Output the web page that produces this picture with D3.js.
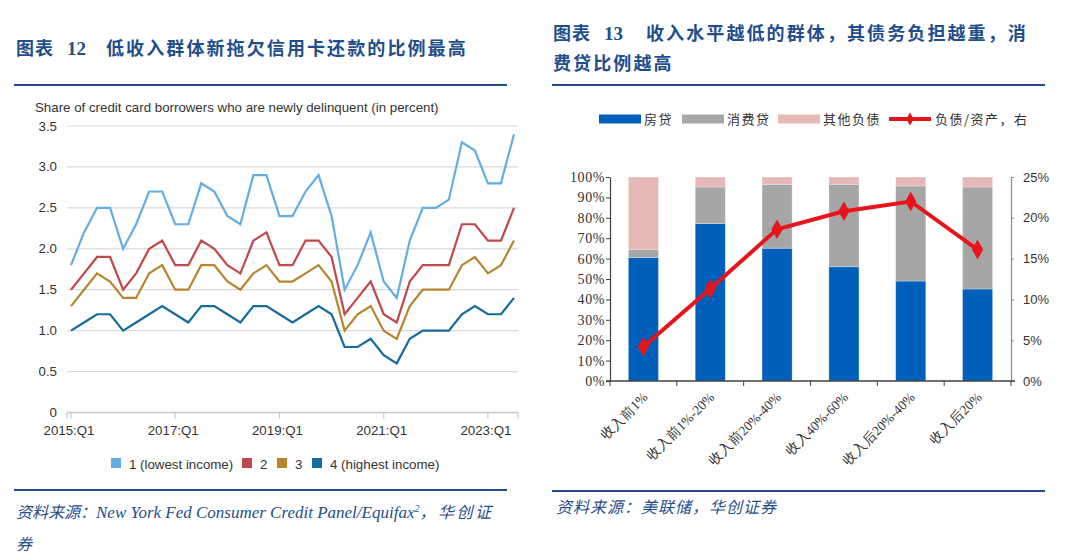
<!DOCTYPE html>
<html><head><meta charset="utf-8">
<script src="https://cdn.jsdelivr.net/npm/d3@7"></script>
<style>
html,body{margin:0;padding:0;background:#fff;}
svg{display:block;}
</style></head>
<body>
<svg id="c" width="1080" height="560"></svg>
<script>
// ---------- Left chart data ----------
const periods = ["2015:Q1","2015:Q2","2015:Q3","2015:Q4","2016:Q1","2016:Q2","2016:Q3","2016:Q4",
"2017:Q1","2017:Q2","2017:Q3","2017:Q4","2018:Q1","2018:Q2","2018:Q3","2018:Q4",
"2019:Q1","2019:Q2","2019:Q3","2019:Q4","2020:Q1","2020:Q2","2020:Q3","2020:Q4",
"2021:Q1","2021:Q2","2021:Q3","2021:Q4","2022:Q1","2022:Q2","2022:Q3","2022:Q4",
"2023:Q1","2023:Q2","2023:Q3"];
const xTickLabels = ["2015:Q1","2017:Q1","2019:Q1","2021:Q1","2023:Q1"];
const yTicksLeft = [0,0.5,1.0,1.5,2.0,2.5,3.0,3.5];
const seriesNames = ["1 (lowest income)","2","3","4 (highest income)"];
const seriesColors = ["#62aee2","#c0484b","#b5862e","#156b9b"];
const q1 = [1.8,2.2,2.5,2.5,2.0,2.3,2.7,2.7,2.3,2.3,2.8,2.7,2.4,2.3,2.9,2.9,2.4,2.4,2.7,2.9,2.4,1.5,1.8,2.2,1.6,1.4,2.1,2.5,2.5,2.6,3.3,3.2,2.8,2.8,3.4];
const q2 = [1.5,1.7,1.9,1.9,1.5,1.7,2.0,2.1,1.8,1.8,2.1,2.0,1.8,1.7,2.1,2.2,1.8,1.8,2.1,2.1,1.9,1.2,1.4,1.6,1.2,1.1,1.6,1.8,1.8,1.8,2.3,2.3,2.1,2.1,2.5];
const q3 = [1.3,1.5,1.7,1.6,1.4,1.4,1.7,1.8,1.5,1.5,1.8,1.8,1.6,1.5,1.7,1.8,1.6,1.6,1.7,1.8,1.6,1.0,1.2,1.3,1.0,0.9,1.3,1.5,1.5,1.5,1.8,1.9,1.7,1.8,2.1];
const q4 = [1.0,1.1,1.2,1.2,1.0,1.1,1.2,1.3,1.2,1.1,1.3,1.3,1.2,1.1,1.3,1.3,1.2,1.1,1.2,1.3,1.2,0.8,0.8,0.9,0.7,0.6,0.9,1.0,1.0,1.0,1.2,1.3,1.2,1.2,1.4];

// ---------- Right chart data ----------
const groups = ["收入前1%","收入前1%-20%","收入前20%-40%","收入40%-60%","收入后20%-40%","收入后20%"];
const mortgage = [60.5,77.2,65.1,56.0,49.0,45.1];
const consumer = [4.0,17.9,31.3,40.4,46.6,50.0];
const otherDebt = [35.5,4.9,3.6,3.6,4.4,4.9];
const debtToAsset = [4.2,11.3,18.6,20.8,22.0,16.1];
const stackNames = ["房贷","消费贷","其他负债"];
const stackColors = ["#005fb8","#a6a6a6","#e6b8b8"];
const lineName = "负债/资产，右";
const yTicksRightL = [0,10,20,30,40,50,60,70,80,90,100];
const yTicksRightR = [0,5,10,15,20,25];

const svg = d3.select("#c");
const BLUE = "#1f4e8c";
const CJK = "'Noto Sans CJK SC','Noto Sans CJK JP',sans-serif";
const SANS = "'Liberation Sans',Arial,sans-serif";
const SERIF = "'Liberation Serif','Times New Roman',serif";

// ---------- Headers ----------
function header(x, y, num){
  const g = svg.append("g");
  g.append("text").attr("x",x).attr("y",y).attr("font-family",CJK).attr("font-weight","bold")
    .attr("font-size",18).attr("fill",BLUE).attr("letter-spacing",1).text("图表");
  g.append("text").attr("x",x+51).attr("y",y).attr("font-family",SERIF).attr("font-weight","bold")
    .attr("font-size",19).attr("fill",BLUE).text(num);
  return g;
}
header(16,55,"12");
svg.append("text").attr("x",106).attr("y",55).attr("font-family",CJK).attr("font-weight","bold")
  .attr("font-size",18).attr("fill",BLUE).attr("letter-spacing",2.1).text("低收入群体新拖欠信用卡还款的比例最高");
header(553,40,"13");
svg.append("text").attr("x",646).attr("y",40).attr("font-family",CJK).attr("font-weight","bold")
  .attr("font-size",18).attr("fill",BLUE).attr("letter-spacing",2.1).text("收入水平越低的群体，其债务负担越重，消");
svg.append("text").attr("x",553).attr("y",70).attr("font-family",CJK).attr("font-weight","bold")
  .attr("font-size",18).attr("fill",BLUE).attr("letter-spacing",2.1).text("费贷比例越高");

// rules
[[14,507,85],[552,1045,85],[14,507,490],[552,1045,491]].forEach(r=>{
  svg.append("line").attr("x1",r[0]).attr("x2",r[1]).attr("y1",r[2]).attr("y2",r[2])
    .attr("stroke",BLUE).attr("stroke-width",2.2);
});

// sources
const s1 = svg.append("text").attr("x",16).attr("y",518).attr("fill",BLUE).attr("font-size",16).attr("font-style","italic");
s1.append("tspan").attr("font-family",CJK).attr("font-size",16).text("资料来源：");
s1.append("tspan").attr("font-family",SERIF).attr("font-size",17).text("New York Fed Consumer Credit Panel/Equifax");
s1.append("tspan").attr("font-family",SERIF).attr("font-size",10).attr("dy",-6).text("2");
s1.append("tspan").attr("font-family",CJK).attr("font-size",16).attr("dy",6).attr("letter-spacing",2.5).text("，华创证");
svg.append("text").attr("x",16).attr("y",550).attr("fill",BLUE).attr("font-size",16).attr("font-style","italic")
  .attr("font-family",CJK).text("券");
svg.append("text").attr("x",556).attr("y",513).attr("fill",BLUE).attr("font-size",16).attr("font-style","italic")
  .attr("font-family",CJK).attr("letter-spacing",1).text("资料来源：美联储，华创证券");

// ---------- Left chart ----------
const L = svg.append("g");
L.append("text").attr("x",35).attr("y",112).attr("font-family",SANS).attr("font-size",13.3).attr("fill","#333")
  .text("Share of credit card borrowers who are newly delinquent (in percent)");
const xL = d3.scaleLinear().domain([0,periods.length-1]).range([71,514]);
const yL = d3.scaleLinear().domain([0,3.5]).range([412.5,126]);
L.append("g").selectAll("line").data(yTicksLeft.filter(d=>d>0)).join("line")
  .attr("x1",67).attr("x2",518).attr("y1",d=>yL(d)).attr("y2",d=>yL(d))
  .attr("stroke","#d9d9d9").attr("stroke-width",1.2);
L.append("g").selectAll("text").data(yTicksLeft).join("text")
  .attr("x",57).attr("y",d=>yL(d)+4.5).attr("text-anchor","end")
  .attr("font-family",SANS).attr("font-size",13.3).attr("fill","#333")
  .text(d=>d===0?"0":d.toFixed(1));
const xAxisG = L.append("g").attr("transform",`translate(0,${yL(0)})`);
xAxisG.append("line").attr("x1",67).attr("x2",518).attr("stroke","#c8c8c8").attr("stroke-width",1.5);
const tickIdx = xTickLabels.map(t=>periods.indexOf(t));
xAxisG.selectAll("line.t").data([-1, ...tickIdx, -2]).join("line").attr("class","t")
  .attr("x1",d=>d===-1?67:d===-2?518:xL(d)).attr("x2",d=>d===-1?67:d===-2?518:xL(d))
  .attr("y1",0).attr("y2",6).attr("stroke","#c8c8c8").attr("stroke-width",1.2);
xAxisG.selectAll("text").data(tickIdx).join("text")
  .attr("x",d=>xL(d)-2).attr("y",22).attr("text-anchor","middle")
  .attr("font-family",SANS).attr("font-size",13.3).attr("fill","#333")
  .text(d=>periods[d]);
const allSeries = [q1,q2,q3,q4];
const lineGen = d3.line().x((d,i)=>xL(i)).y(d=>yL(d));
L.append("g").selectAll("path").data(allSeries).join("path")
  .attr("d",lineGen).attr("fill","none").attr("stroke",(d,i)=>seriesColors[i])
  .attr("stroke-width",2.2).attr("stroke-linejoin","miter");
const legX = [111,242,277,312];
const lg = L.append("g");
seriesNames.forEach((n,i)=>{
  lg.append("rect").attr("x",legX[i]).attr("y",458).attr("width",10).attr("height",10).attr("fill",seriesColors[i]);
  lg.append("text").attr("x",legX[i]+18).attr("y",468.5).attr("font-family",SANS).attr("font-size",13.3)
    .attr("fill","#333").text(n);
});

// ---------- Right chart ----------
const R = svg.append("g");
const xR = d3.scaleBand().domain(groups).range([610,1011]).paddingInner(0.55).paddingOuter(0.275);
const yR = d3.scaleLinear().domain([0,100]).range([381,177]);
const yR2 = d3.scaleLinear().domain([0,25]).range([381,177]);
const stackData = groups.map((g,i)=>({g, m:mortgage[i], c:consumer[i], o:otherDebt[i]}));
const stacked = d3.stack().keys(["m","c","o"])(stackData);
R.append("g").selectAll("g").data(stacked).join("g").attr("fill",(d,i)=>stackColors[i])
  .selectAll("rect").data(d=>d).join("rect")
  .attr("x",d=>xR(d.data.g)).attr("width",xR.bandwidth())
  .attr("y",d=>yR(d[1])).attr("height",d=>yR(d[0])-yR(d[1]))
  .attr("stroke","#ffffff").attr("stroke-opacity",0.35).attr("stroke-width",0.8);
const axL = R.append("g").attr("transform","translate(610,0)")
  .call(d3.axisLeft(yR).tickValues(yTicksRightL).tickFormat(d=>d+"%").tickSize(4).tickSizeOuter(0));
axL.select(".domain").attr("stroke","#404040").attr("stroke-width",1.2);
axL.selectAll(".tick line").attr("stroke","#404040");
axL.selectAll("text").attr("font-family",SERIF).attr("font-size",14).attr("fill","#333").attr("letter-spacing",0.6).attr("x",-5);
const axR = R.append("g").attr("transform","translate(1011,0)")
  .call(d3.axisRight(yR2).tickValues(yTicksRightR).tickFormat(d=>d+"%").tickSize(3).tickSizeOuter(0));
axR.select(".domain").attr("stroke","#8c8c8c").attr("stroke-width",1.2);
axR.selectAll(".tick line").attr("stroke","#8c8c8c");
axR.selectAll("text").attr("font-family",SANS).attr("font-size",13).attr("fill","#333").attr("x",12);
const bx = R.append("g").attr("transform","translate(0,381)");
bx.append("line").attr("x1",606).attr("x2",1015).attr("stroke","#404040").attr("stroke-width",1.4);
const bounds = groups.map(g=>xR(g)-xR.step()*xR.paddingInner()/2).concat([1011]);
bx.selectAll("line.t").data(bounds).join("line").attr("class","t")
  .attr("x1",d=>d).attr("x2",d=>d).attr("y1",0).attr("y2",5).attr("stroke","#404040");
bx.selectAll("text").data(groups).join("text")
  .attr("transform",d=>`translate(${xR(d)+xR.bandwidth()/2+5},17) rotate(-45)`)
  .attr("text-anchor","end").attr("font-family",SERIF).attr("font-size",13.5).attr("fill","#333")
  .text(d=>d);
const lineR = d3.line().x((d,i)=>xR(groups[i])+xR.bandwidth()/2).y(d=>yR2(d));
R.append("path").datum(debtToAsset).attr("d",lineR).attr("fill","none").attr("stroke","#e8141c").attr("stroke-width",4);
R.append("g").selectAll("path").data(debtToAsset).join("path")
  .attr("transform",(d,i)=>`translate(${xR(groups[i])+xR.bandwidth()/2},${yR2(d)})`)
  .attr("d",d3.symbol().type(d3.symbolDiamond).size(110)).attr("fill","#e8141c");
const rl = R.append("g");
const lx = [599,682,778];
stackNames.forEach((n,i)=>{
  rl.append("rect").attr("x",lx[i]).attr("y",114.5).attr("width",42).attr("height",9).attr("fill",stackColors[i]);
  rl.append("text").attr("x",lx[i]+45).attr("y",124).attr("font-family",CJK).attr("font-size",13)
    .attr("fill","#333").attr("letter-spacing",1.5).text(n);
});
rl.append("line").attr("x1",889).attr("x2",931).attr("y1",119).attr("y2",119).attr("stroke","#e8141c").attr("stroke-width",4);
rl.append("path").attr("transform","translate(910,119)").attr("d",d3.symbol().type(d3.symbolDiamond).size(50)).attr("fill","#e8141c");
rl.append("text").attr("x",935).attr("y",124).attr("font-family",CJK).attr("font-size",13)
  .attr("fill","#333").attr("letter-spacing",1.5).text(lineName);
</script>
</body></html>
